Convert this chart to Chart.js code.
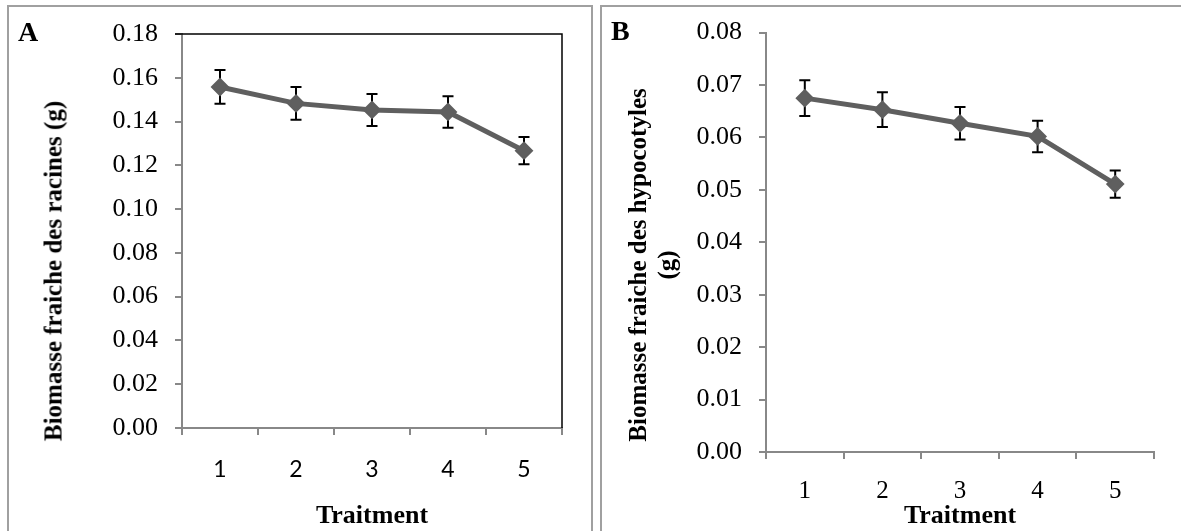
<!DOCTYPE html>
<html>
<head>
<meta charset="utf-8">
<script src="https://cdn.jsdelivr.net/npm/chart.js@4.4.1/dist/chart.umd.min.js"></script>
<style>
  body { margin: 0; background: #fff; width: 1181px; height: 531px; overflow: hidden; position: relative; }
  canvas { position: absolute; top: 0; }
  .panel { position: absolute; border: 2px solid #a0a0a0; box-sizing: border-box; }
  .lbl { position: absolute; font-family: "Liberation Serif", "Times New Roman", serif; font-weight: bold; color: #000; white-space: nowrap; line-height: 1; }
  .ytitle { transform: translate(-50%, -50%) rotate(-90deg); text-align: center; font-size: 25px; }
</style>
</head>
<body>
<div class="panel" style="left:7px; top:5px; width:586px; height:540px;"></div>
<div class="panel" style="left:600px; top:5px; width:600px; height:540px;"></div>

<canvas id="chart-a" width="592" height="531" style="left:0px"></canvas>
<canvas id="chart-b" width="589" height="531" style="left:592px"></canvas>

<div class="lbl" style="left:18px; top:18px; font-size:28px;">A</div>
<div class="lbl" style="left:611px; top:17px; font-size:28px;">B</div>
<div class="lbl ytitle" style="left:53px; top:271px;">Biomasse fraiche des racines (g)</div>
<div class="lbl ytitle" style="left:652px; top:265px; line-height:29px;">Biomasse fraiche des hypocotyles<br>(g)</div>
<div class="lbl" style="left:372px; top:502px; font-size:26px; transform:translateX(-50%);">Traitment</div>
<div class="lbl" style="left:960px; top:502px; font-size:26px; transform:translateX(-50%);">Traitment</div>

<script>
const treatments = ['1', '2', '3', '4', '5'];

// panel A: racines
const rootMeans = [0.1558, 0.1483, 0.1453, 0.1444, 0.1267];
const rootErrors = [0.0077, 0.0075, 0.0073, 0.0072, 0.0062];
const rootTicks = [0, 0.18, 0.02];

// panel B: hypocotyles
const hypoMeans = [0.0675, 0.0653, 0.0627, 0.0602, 0.0511];
const hypoErrors = [0.0034, 0.0033, 0.0031, 0.0030, 0.0026];
const hypoTicks = [0, 0.08, 0.01];

const axisGray = '#888888';
const lineGray = '#5f5f5f';

// draws the error bars from the chart's own scales
const errorBars = {
    id: 'errorBars',
    beforeDatasetsDraw(chart, args, opts) {
        let ctx = chart.ctx;
        let xs = chart.scales.x, ys = chart.scales.y;
        let means = chart.data.datasets[0].data;
        ctx.save();
        ctx.strokeStyle = '#000';
        ctx.lineWidth = 2;
        means.forEach((m, i) => {
            let x = xs.getPixelForValue(i);
            let top = ys.getPixelForValue(m + opts.values[i]);
            let bot = ys.getPixelForValue(m - opts.values[i]);
            ctx.beginPath();
            ctx.moveTo(x, top); ctx.lineTo(x, bot);
            ctx.moveTo(x - 5.5, top); ctx.lineTo(x + 5.5, top);
            ctx.moveTo(x - 5.5, bot); ctx.lineTo(x + 5.5, bot);
            ctx.stroke();
        });
        ctx.restore();
    }
};

// black top/right frame of the plot area (panel A only)
const plotFrame = {
    id: 'plotFrame',
    afterDraw(chart, args, opts) {
        if (!opts.show) return;
        let a = chart.chartArea, ctx = chart.ctx;
        ctx.save();
        ctx.strokeStyle = '#000';
        ctx.lineWidth = 1.5;
        ctx.beginPath();
        ctx.moveTo(a.left - 7, a.top);
        ctx.lineTo(a.right, a.top);
        ctx.lineTo(a.right, a.bottom);
        ctx.stroke();
        ctx.restore();
    }
};

function makeChart(id, means, errors, ticks, box, xFont, xPad) {
    let canvas = document.getElementById(id);
    return new Chart(canvas.getContext('2d'), {
        type: 'line',
        data: {
            labels: treatments,
            datasets: [{
                data: means,
                borderColor: lineGray,
                borderWidth: 5,
                pointStyle: 'rectRot',
                pointRadius: 8,
                pointBackgroundColor: lineGray,
                pointBorderColor: lineGray,
                pointBorderWidth: 2,
                tension: 0,
                clip: false
            }]
        },
        options: {
            responsive: false,
            animation: false,
            layout: { padding: { left: 0, top: box.top, right: canvas.width - box.right, bottom: 0 } },
            plugins: {
                legend: { display: false },
                tooltip: { enabled: false },
                errorBars: { values: errors },
                plotFrame: { show: box.frame }
            },
            scales: {
                x: {
                    offset: true,
                    grid: { offset: true, drawOnChartArea: false, color: axisGray, lineWidth: 2, tickLength: 7 },
                    border: { color: axisGray, width: 2 },
                    ticks: { color: '#000', font: xFont, padding: xPad, maxRotation: 0 },
                    afterFit: s => { s.height = canvas.height - box.bottom; }
                },
                y: {
                    min: ticks[0],
                    max: ticks[1],
                    grid: { drawOnChartArea: false, color: axisGray, lineWidth: 2, tickLength: 7 },
                    border: { color: axisGray, width: 2 },
                    ticks: {
                        stepSize: ticks[2],
                        autoSkip: false,
                        color: '#000',
                        padding: 17,
                        font: { family: '"Liberation Serif", serif', size: 26 },
                        callback: v => v.toFixed(2)
                    },
                    afterFit: s => { s.width = box.left; }
                }
            }
        },
        plugins: [errorBars, plotFrame]
    });
}

makeChart('chart-a', rootMeans, rootErrors, rootTicks,
    { left: 182, right: 562, top: 34, bottom: 428, frame: true },
    { family: 'Lato, "Open Sans", sans-serif', size: 23 }, 21);

makeChart('chart-b', hypoMeans, hypoErrors, hypoTicks,
    { left: 174, right: 562, top: 21, bottom: 452, frame: false },
    { family: '"Liberation Serif", serif', size: 25 }, 17);
</script>
</body>
</html>
